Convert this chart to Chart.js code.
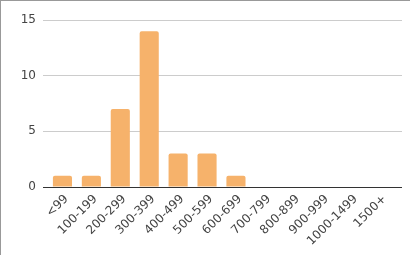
<!DOCTYPE html>
<html>
<head>
<meta charset="utf-8">
<script src="https://cdn.jsdelivr.net/npm/chart.js@4"></script>
<style>
  html, body { margin: 0; padding: 0; background: #fff; }
  #box {
    width: 409px;
    height: 254px;
    border-top: 1px solid #999;
    border-left: 1px solid #999;
  }
</style>
</head>
<body>
<div id="box"><canvas id="myChart" width="409" height="254"></canvas></div>
<script>
const labels = ["<99", "100-199", "200-299", "300-399", "400-499", "500-599",
  "600-699", "700-799", "800-899", "900-999", "1000-1499", "1500+"];
const counts = [1, 1, 7, 14, 3, 3, 1, 0, 0, 0, 0, 0];
const yTicks = [0, 5, 10, 15];

const ctx = document.getElementById("myChart");
const font = { family: "DejaVu Sans", size: 12 };
const gridColor = (c) => (c.tick && c.tick.value === 0 ? "#333" : "#ccc");
const setTicks = (scale) => {
  scale.ticks = yTicks.map((v) => ({ value: v }));
};

new Chart(ctx, {
  type: "bar",
  data: {
    labels: labels,
    datasets: [
      {
        data: counts,
        yAxisID: "y",
        backgroundColor: "#f6b26b",
        borderRadius: { topLeft: 2, topRight: 2 },
        borderSkipped: "bottom",
        barPercentage: 0.76,
        categoryPercentage: 0.87,
      },
    ],
  },
  options: {
    responsive: false,
    animation: false,
    layout: { padding: { top: 19, right: 8, left: 0, bottom: 0 } },
    plugins: { legend: { display: false }, tooltip: { enabled: false } },
    scales: {
      x: {
        grid: { display: false },
        border: { color: "#333", width: 1 },
        ticks: {
          color: "#444",
          font: font,
          minRotation: 45,
          maxRotation: 45,
          autoSkip: false,
          padding: -3,
          labelOffset: 4,
        },
        afterFit: (scale) => { scale.height = 68; },
      },
      y: {
        min: 0,
        max: 15,
        afterBuildTicks: setTicks,
        grid: { color: gridColor, drawTicks: true, tickLength: 5 },
        border: { display: false },
        ticks: { color: "#444", font: font, padding: 7 },
        afterFit: (scale) => { scale.width = 47; },
      },
      y2: {
        position: "right",
        min: 0,
        max: 15,
        afterBuildTicks: setTicks,
        grid: { color: gridColor, drawOnChartArea: false, drawTicks: true, tickLength: 7 },
        border: { display: false },
        ticks: { display: false },
        afterFit: (scale) => { scale.width = 7; },
      },
    },
  },
});
</script>
</body>
</html>
